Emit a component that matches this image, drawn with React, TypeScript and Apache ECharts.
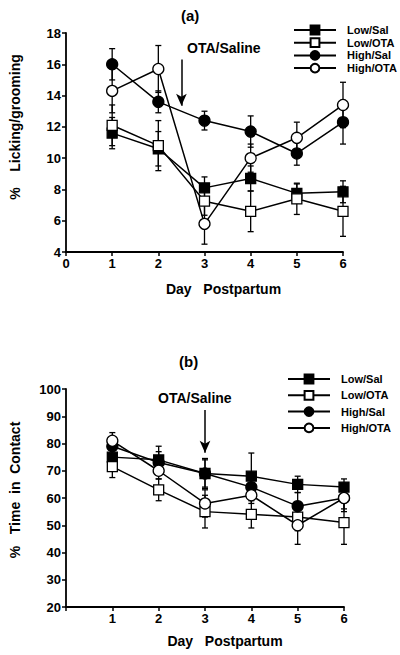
import React, { useEffect, useRef } from "react";
import * as echarts from "echarts";

const days = [1, 2, 3, 4, 5, 6];
const groupNames = ["Low/Sal", "Low/OTA", "High/Sal", "High/OTA"];

// (a) % Licking/grooming
const lickLowSal = [11.6, 10.6, 8.1, 8.7, 7.75, 7.85];
const lickLowSalErr = [1.0, 1.1, 0.7, 0.8, 0.6, 0.7];
const lickLowOTA = [12.1, 10.8, 7.25, 6.6, 7.4, 6.6];
const lickLowOTAErr = [1.3, 1.6, 0.9, 1.3, 1.0, 1.6];
const lickHighSal = [16.0, 13.6, 12.4, 11.7, 10.3, 12.3];
const lickHighSalErr = [1.0, 0.7, 0.6, 1.0, 0.75, 1.4];
const lickHighOTA = [14.3, 15.7, 5.8, 10.0, 11.3, 13.4];
const lickHighOTAErr = [1.4, 1.5, 1.3, 0.9, 1.0, 1.45];

// (b) % Time in Contact
const contactLowSal = [75, 74, 69, 68, 65, 64];
const contactLowSalErr = [4, 5, 5.5, 8.5, 3, 3];
const contactLowOTA = [71.5, 63, 55, 54, 53, 51];
const contactLowOTAErr = [4, 4, 6, 5, 5, 8];
const contactHighSal = [79, 73, 69, 64, 57, 60];
const contactHighSalErr = [3, 4, 5, 4, 5, 4];
const contactHighOTA = [81, 70, 58, 61, 50, 60];
const contactHighOTAErr = [3, 3, 5, 3, 7, 5];

const FONT = "Liberation Sans";

const styles = [
  { symbol: "rect", filled: true },
  { symbol: "rect", filled: false },
  { symbol: "circle", filled: true },
  { symbol: "circle", filled: false },
];

function errRender(params: any, api: any) {
  const x = api.value(0);
  const y = api.value(1);
  const e = api.value(2);
  const hi = api.coord([x, y + e]);
  const lo = api.coord([x, y - e]);
  const w = 3;
  const style = { stroke: "#000", lineWidth: 1.3 };
  return {
    type: "group",
    children: [
      { type: "line", shape: { x1: hi[0], y1: hi[1], x2: lo[0], y2: lo[1] }, style },
      { type: "line", shape: { x1: hi[0] - w, y1: hi[1], x2: hi[0] + w, y2: hi[1] }, style },
      { type: "line", shape: { x1: lo[0] - w, y1: lo[1], x2: lo[0] + w, y2: lo[1] }, style },
    ],
  };
}

function makeSeries(gridIdx: number, vals: number[][], errs: number[][]) {
  const out: any[] = [];
  vals.forEach((v, k) => {
    out.push({
      name: groupNames[k] + "-err-" + gridIdx,
      type: "custom",
      xAxisIndex: gridIdx,
      yAxisIndex: gridIdx,
      renderItem: errRender,
      data: days.map((d, i) => [d, v[i], errs[k][i]]),
      encode: { x: 0, y: 1 },
      z: 1,
      silent: true,
    });
  });
  vals.forEach((v, k) => {
    const st = styles[k];
    out.push({
      name: groupNames[k],
      type: "line",
      xAxisIndex: gridIdx,
      yAxisIndex: gridIdx,
      data: days.map((d, i) => [d, v[i]]),
      symbol: st.symbol,
      symbolSize: st.symbol === "rect" ? 10 : 11,
      showSymbol: true,
      lineStyle: { color: "#000", width: 1.5 },
      itemStyle: { color: st.filled ? "#000" : "#fff", borderColor: "#000", borderWidth: 1.3 },
      z: 3 + k,
      silent: true,
    });
  });
  return out;
}

export default function App() {
  const ref = useRef<HTMLDivElement>(null);
  useEffect(() => {
    if (!ref.current) return;
    const chart = echarts.init(ref.current, null, { renderer: "svg" });
    const axisLabel = { color: "#000", fontFamily: FONT, fontWeight: "bold", fontSize: 13 };
    const axisLine = { lineStyle: { color: "#000", width: 1.8 } };
    const axisTick = { lineStyle: { color: "#000", width: 1.5 }, length: 4 };
    const nameStyle = { color: "#000", fontFamily: FONT, fontWeight: "bold", fontSize: 14 };

    const seriesA = makeSeries(
      0,
      [lickLowSal, lickLowOTA, lickHighSal, lickHighOTA],
      [lickLowSalErr, lickLowOTAErr, lickHighSalErr, lickHighOTAErr]
    );
    const seriesB = makeSeries(
      1,
      [contactLowSal, contactLowOTA, contactHighSal, contactHighOTA],
      [contactLowSalErr, contactLowOTAErr, contactHighSalErr, contactHighOTAErr]
    );
    const arrowLine = (from: number[], to: number[]) => ({
      silent: true,
      symbol: ["none", "arrow"],
      symbolSize: [8, 12],
      lineStyle: { color: "#000", width: 1.5, type: "solid" },
      label: { show: false },
      data: [[{ coord: from }, { coord: to }]],
    });
    seriesA[7].markLine = arrowLine([2.5, 16.3], [2.5, 13.35]);
    seriesB[4].markLine = arrowLine([3, 92.3], [3, 76.6]);

    const legendBase = {
      orient: "vertical",
      itemWidth: 42,
      itemHeight: 11,
      data: groupNames,
      selectedMode: false,
      textStyle: { color: "#000", fontFamily: FONT, fontWeight: "bold", fontSize: 11, padding: [0, 0, 0, 6] },
    };

    chart.setOption({
      animation: false,
      backgroundColor: "#fff",
      grid: [
        { left: 65, top: 33, width: 278, height: 219 },
        { left: 65, top: 389, width: 279, height: 218 },
      ],
      xAxis: [
        {
          type: "value", gridIndex: 0, min: 0, max: 6, interval: 1,
          axisLine, axisTick, splitLine: { show: false },
          axisLabel: { ...axisLabel, margin: 5 },
          name: "Day   Postpartum", nameLocation: "middle", nameGap: 30,
          nameTextStyle: { ...nameStyle, padding: [0, 0, 0, 38] },
        },
        {
          type: "value", gridIndex: 1, min: 0, max: 6, interval: 1,
          axisLine, axisTick, splitLine: { show: false },
          axisLabel: { ...axisLabel, margin: 5, formatter: (v: number) => (v === 0 ? "" : String(v)) },
          name: "Day   Postpartum", nameLocation: "middle", nameGap: 27,
          nameTextStyle: { ...nameStyle, padding: [0, 0, 0, 40] },
        },
      ],
      yAxis: [
        {
          type: "value", gridIndex: 0, min: 4, max: 18, interval: 2,
          axisLine: { show: true, ...axisLine }, axisTick: { show: true, ...axisTick }, splitLine: { show: false },
          axisLabel: { ...axisLabel, margin: 5 },
          name: "%    Licking/grooming", nameLocation: "middle", nameGap: 44,
          nameTextStyle: { ...nameStyle, padding: [0, 0, 0, 31] },
        },
        {
          type: "value", gridIndex: 1, min: 20, max: 100, interval: 10,
          axisLine: { show: true, ...axisLine }, axisTick: { show: true, ...axisTick }, splitLine: { show: false },
          axisLabel: { ...axisLabel, margin: 5 },
          name: "%   Time  in  Contact", nameLocation: "middle", nameGap: 44,
          nameTextStyle: { ...nameStyle, padding: [0, 0, 0, 16] },
        },
      ],
      legend: [
        { ...legendBase, left: 288, top: 19.5, itemGap: 1.7 },
        { ...legendBase, left: 282, top: 368.5, itemGap: 5.3 },
      ],
      graphic: [
        { type: "text", left: 181, top: 8, style: { text: "(a)", font: `bold 15px "${FONT}"`, fill: "#000" } },
        { type: "text", left: 179, top: 354, style: { text: "(b)", font: `bold 15px "${FONT}"`, fill: "#000" } },
        { type: "text", left: 187, top: 41, style: { text: "OTA/Saline", font: `bold 14px "${FONT}"`, fill: "#000" } },
        { type: "text", left: 158, top: 391, style: { text: "OTA/Saline", font: `bold 14px "${FONT}"`, fill: "#000" } },
      ],
      series: [...seriesA, ...seriesB],
    });
    return () => chart.dispose();
  }, []);
  return (
    <div
      ref={ref}
      style={{ position: "absolute", left: 0, top: 0, width: 400, height: 655, background: "#fff" }}
    />
  );
}
